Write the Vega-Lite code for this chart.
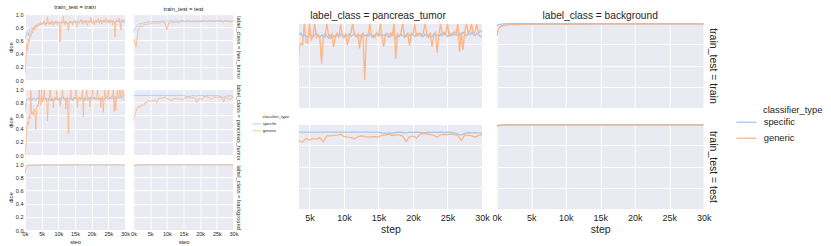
{
"$schema":"https://vega.github.io/schema/vega-lite/v6.json",
"background":"white",
"padding":{"left":7,"top":3,"right":0,"bottom":0},
"config":{
 "font":"Liberation Sans",
 "view":{"fill":"#eaeaf2","stroke":null},
 "axis":{"grid":true,"gridColor":"#ffffff","gridWidth":1,"gridOpacity":1,"domain":false,"ticks":false,"labelColor":"#262626","titleColor":"#262626","titleFontWeight":"normal","labelFont":"Liberation Sans","titleFont":"Liberation Sans","minExtent":0,"labelOverlap":false,"labelFlush":false},
 "title":{"color":"#262626","fontWeight":"normal","font":"Liberation Sans"},
 "legend":{"labelColor":"#262626","titleColor":"#262626","titleFontWeight":"normal","labelFont":"Liberation Sans","titleFont":"Liberation Sans"}
},
"datasets":{
"liver_train_specific":[{"step":0,"dice":0.62},{"step":500,"dice":0.72},{"step":1000,"dice":0.68},{"step":1500,"dice":0.78},{"step":2000,"dice":0.8},{"step":2500,"dice":0.76},{"step":3000,"dice":0.83},{"step":3500,"dice":0.82},{"step":4000,"dice":0.85},{"step":4500,"dice":0.84},{"step":5000,"dice":0.86},{"step":5500,"dice":0.85},{"step":6000,"dice":0.87},{"step":6500,"dice":0.86},{"step":7000,"dice":0.88},{"step":7500,"dice":0.85},{"step":8000,"dice":0.87},{"step":8500,"dice":0.88},{"step":9000,"dice":0.86},{"step":9500,"dice":0.87},{"step":10000,"dice":0.89},{"step":10500,"dice":0.86},{"step":11000,"dice":0.88},{"step":11500,"dice":0.87},{"step":12000,"dice":0.89},{"step":12500,"dice":0.88},{"step":13000,"dice":0.86},{"step":13500,"dice":0.88},{"step":14000,"dice":0.89},{"step":14500,"dice":0.87},{"step":15000,"dice":0.9},{"step":15500,"dice":0.88},{"step":16000,"dice":0.89},{"step":16500,"dice":0.87},{"step":17000,"dice":0.9},{"step":17500,"dice":0.88},{"step":18000,"dice":0.89},{"step":18500,"dice":0.9},{"step":19000,"dice":0.88},{"step":19500,"dice":0.89},{"step":20000,"dice":0.9},{"step":20500,"dice":0.87},{"step":21000,"dice":0.89},{"step":21500,"dice":0.9},{"step":22000,"dice":0.88},{"step":22500,"dice":0.89},{"step":23000,"dice":0.91},{"step":23500,"dice":0.88},{"step":24000,"dice":0.9},{"step":24500,"dice":0.89},{"step":25000,"dice":0.9},{"step":25500,"dice":0.88},{"step":26000,"dice":0.9},{"step":26500,"dice":0.89},{"step":27000,"dice":0.87},{"step":27500,"dice":0.9},{"step":28000,"dice":0.89},{"step":28500,"dice":0.88},{"step":29000,"dice":0.9},{"step":29500,"dice":0.88},{"step":30000,"dice":0.87}],
"liver_train_generic":[{"step":0,"dice":0.08},{"step":250,"dice":0.3},{"step":500,"dice":0.55},{"step":750,"dice":0.45},{"step":1000,"dice":0.62},{"step":1250,"dice":0.58},{"step":1500,"dice":0.7},{"step":1750,"dice":0.66},{"step":2000,"dice":0.75},{"step":2250,"dice":0.72},{"step":2500,"dice":0.8},{"step":2750,"dice":0.76},{"step":3000,"dice":0.82},{"step":3250,"dice":0.78},{"step":3500,"dice":0.84},{"step":3750,"dice":0.8},{"step":4000,"dice":0.86},{"step":4250,"dice":0.83},{"step":4500,"dice":0.85},{"step":4750,"dice":0.88},{"step":5000,"dice":0.84},{"step":5250,"dice":0.87},{"step":5500,"dice":0.85},{"step":5750,"dice":0.9},{"step":6000,"dice":0.86},{"step":6250,"dice":0.83},{"step":6500,"dice":0.88},{"step":6750,"dice":0.96},{"step":7000,"dice":0.86},{"step":7250,"dice":0.84},{"step":7500,"dice":0.88},{"step":7750,"dice":0.85},{"step":8000,"dice":0.9},{"step":8250,"dice":0.87},{"step":8500,"dice":0.82},{"step":8750,"dice":0.88},{"step":9000,"dice":0.86},{"step":9250,"dice":0.9},{"step":9500,"dice":0.87},{"step":9750,"dice":0.84},{"step":10000,"dice":0.88},{"step":10250,"dice":0.86},{"step":10500,"dice":0.58},{"step":10750,"dice":0.84},{"step":11000,"dice":0.88},{"step":11250,"dice":0.86},{"step":11500,"dice":0.97},{"step":11750,"dice":0.87},{"step":12000,"dice":0.84},{"step":12250,"dice":0.89},{"step":12500,"dice":0.86},{"step":12750,"dice":0.88},{"step":13000,"dice":0.75},{"step":13250,"dice":0.87},{"step":13500,"dice":0.9},{"step":13750,"dice":0.86},{"step":14000,"dice":0.88},{"step":14250,"dice":0.84},{"step":14500,"dice":0.89},{"step":14750,"dice":0.87},{"step":15000,"dice":0.9},{"step":15250,"dice":0.86},{"step":15500,"dice":0.8},{"step":15750,"dice":0.88},{"step":16000,"dice":0.9},{"step":16250,"dice":0.86},{"step":16500,"dice":0.89},{"step":16750,"dice":0.92},{"step":17000,"dice":0.87},{"step":17250,"dice":0.85},{"step":17500,"dice":0.9},{"step":17750,"dice":0.88},{"step":18000,"dice":0.86},{"step":18250,"dice":0.91},{"step":18500,"dice":0.88},{"step":18750,"dice":0.83},{"step":19000,"dice":0.89},{"step":19250,"dice":0.9},{"step":19500,"dice":0.87},{"step":19750,"dice":0.95},{"step":20000,"dice":0.88},{"step":20250,"dice":0.86},{"step":20500,"dice":0.9},{"step":20750,"dice":0.84},{"step":21000,"dice":0.89},{"step":21250,"dice":0.91},{"step":21500,"dice":0.87},{"step":21750,"dice":0.9},{"step":22000,"dice":0.93},{"step":22250,"dice":0.86},{"step":22500,"dice":0.89},{"step":22750,"dice":0.91},{"step":23000,"dice":0.85},{"step":23250,"dice":0.9},{"step":23500,"dice":0.88},{"step":23750,"dice":0.92},{"step":24000,"dice":0.87},{"step":24250,"dice":0.9},{"step":24500,"dice":0.93},{"step":24750,"dice":0.87},{"step":25000,"dice":0.9},{"step":25250,"dice":0.86},{"step":25500,"dice":0.92},{"step":25750,"dice":0.88},{"step":26000,"dice":0.9},{"step":26250,"dice":0.84},{"step":26500,"dice":0.91},{"step":26750,"dice":0.88},{"step":27000,"dice":0.66},{"step":27250,"dice":0.89},{"step":27500,"dice":0.92},{"step":27750,"dice":0.88},{"step":28000,"dice":0.9},{"step":28250,"dice":0.94},{"step":28500,"dice":0.87},{"step":28750,"dice":0.76},{"step":29000,"dice":0.9},{"step":29250,"dice":0.92},{"step":29500,"dice":0.88},{"step":29750,"dice":0.91},{"step":30000,"dice":0.89}],
"liver_test_specific":[{"step":0,"dice":0.72},{"step":500,"dice":0.78},{"step":1000,"dice":0.82},{"step":1500,"dice":0.84},{"step":2000,"dice":0.86},{"step":2500,"dice":0.85},{"step":3000,"dice":0.87},{"step":3500,"dice":0.87},{"step":4000,"dice":0.88},{"step":4500,"dice":0.88},{"step":5000,"dice":0.89},{"step":5500,"dice":0.88},{"step":6000,"dice":0.89},{"step":6500,"dice":0.89},{"step":7000,"dice":0.88},{"step":7500,"dice":0.89},{"step":8000,"dice":0.89},{"step":8500,"dice":0.9},{"step":9000,"dice":0.89},{"step":9500,"dice":0.89},{"step":10000,"dice":0.9},{"step":10500,"dice":0.89},{"step":11000,"dice":0.9},{"step":11500,"dice":0.9},{"step":12000,"dice":0.89},{"step":12500,"dice":0.9},{"step":13000,"dice":0.9},{"step":13500,"dice":0.89},{"step":14000,"dice":0.9},{"step":14500,"dice":0.9},{"step":15000,"dice":0.9},{"step":15500,"dice":0.89},{"step":16000,"dice":0.9},{"step":16500,"dice":0.9},{"step":17000,"dice":0.9},{"step":17500,"dice":0.89},{"step":18000,"dice":0.9},{"step":18500,"dice":0.9},{"step":19000,"dice":0.9},{"step":19500,"dice":0.89},{"step":20000,"dice":0.9},{"step":20500,"dice":0.9},{"step":21000,"dice":0.9},{"step":21500,"dice":0.9},{"step":22000,"dice":0.89},{"step":22500,"dice":0.9},{"step":23000,"dice":0.9},{"step":23500,"dice":0.9},{"step":24000,"dice":0.9},{"step":24500,"dice":0.89},{"step":25000,"dice":0.9},{"step":25500,"dice":0.9},{"step":26000,"dice":0.9},{"step":26500,"dice":0.9},{"step":27000,"dice":0.89},{"step":27500,"dice":0.9},{"step":28000,"dice":0.9},{"step":28500,"dice":0.9},{"step":29000,"dice":0.89},{"step":29500,"dice":0.9},{"step":30000,"dice":0.9}],
"liver_test_generic":[{"step":250,"dice":0.62},{"step":500,"dice":0.55},{"step":750,"dice":0.5},{"step":1000,"dice":0.6},{"step":1250,"dice":0.72},{"step":1500,"dice":0.78},{"step":2000,"dice":0.82},{"step":2500,"dice":0.8},{"step":3000,"dice":0.84},{"step":3500,"dice":0.85},{"step":4000,"dice":0.84},{"step":4500,"dice":0.86},{"step":5000,"dice":0.85},{"step":5500,"dice":0.86},{"step":6000,"dice":0.87},{"step":6500,"dice":0.86},{"step":7000,"dice":0.87},{"step":7500,"dice":0.86},{"step":8000,"dice":0.87},{"step":8500,"dice":0.88},{"step":9000,"dice":0.87},{"step":9500,"dice":0.86},{"step":10000,"dice":0.76},{"step":10500,"dice":0.86},{"step":11000,"dice":0.87},{"step":11500,"dice":0.88},{"step":12000,"dice":0.87},{"step":12500,"dice":0.88},{"step":13000,"dice":0.88},{"step":13500,"dice":0.87},{"step":14000,"dice":0.88},{"step":14500,"dice":0.89},{"step":15000,"dice":0.88},{"step":15500,"dice":0.89},{"step":16000,"dice":0.88},{"step":16500,"dice":0.89},{"step":17000,"dice":0.88},{"step":17500,"dice":0.89},{"step":18000,"dice":0.89},{"step":18500,"dice":0.88},{"step":19000,"dice":0.89},{"step":19500,"dice":0.89},{"step":20000,"dice":0.88},{"step":20500,"dice":0.89},{"step":21000,"dice":0.9},{"step":21500,"dice":0.89},{"step":22000,"dice":0.89},{"step":22500,"dice":0.9},{"step":23000,"dice":0.89},{"step":23500,"dice":0.9},{"step":24000,"dice":0.89},{"step":24500,"dice":0.9},{"step":25000,"dice":0.9},{"step":25500,"dice":0.89},{"step":26000,"dice":0.9},{"step":26500,"dice":0.89},{"step":27000,"dice":0.88},{"step":27500,"dice":0.9},{"step":28000,"dice":0.89},{"step":28500,"dice":0.9},{"step":29000,"dice":0.88},{"step":29500,"dice":0.89},{"step":30000,"dice":0.89}],
"pancreas_train_specific":[{"step":0,"dice":0.65},{"step":250,"dice":0.78},{"step":500,"dice":0.85},{"step":750,"dice":0.83},{"step":1000,"dice":0.86},{"step":1250,"dice":0.84},{"step":1500,"dice":0.87},{"step":1750,"dice":0.85},{"step":2000,"dice":0.83},{"step":2250,"dice":0.86},{"step":2500,"dice":0.84},{"step":2750,"dice":0.87},{"step":3000,"dice":0.85},{"step":3250,"dice":0.83},{"step":3500,"dice":0.86},{"step":3750,"dice":0.88},{"step":4000,"dice":0.84},{"step":4250,"dice":0.86},{"step":4500,"dice":0.85},{"step":4750,"dice":0.83},{"step":5000,"dice":0.87},{"step":5250,"dice":0.85},{"step":5500,"dice":0.84},{"step":5750,"dice":0.86},{"step":6000,"dice":0.88},{"step":6250,"dice":0.85},{"step":6500,"dice":0.83},{"step":6750,"dice":0.86},{"step":7000,"dice":0.84},{"step":7250,"dice":0.87},{"step":7500,"dice":0.85},{"step":7750,"dice":0.82},{"step":8000,"dice":0.86},{"step":8250,"dice":0.84},{"step":8500,"dice":0.85},{"step":8750,"dice":0.83},{"step":9000,"dice":0.86},{"step":9250,"dice":0.84},{"step":9500,"dice":0.87},{"step":9750,"dice":0.85},{"step":10000,"dice":0.83},{"step":10250,"dice":0.86},{"step":10500,"dice":0.85},{"step":10750,"dice":0.87},{"step":11000,"dice":0.84},{"step":11250,"dice":0.86},{"step":11500,"dice":0.88},{"step":11750,"dice":0.85},{"step":12000,"dice":0.83},{"step":12250,"dice":0.86},{"step":12500,"dice":0.84},{"step":12750,"dice":0.87},{"step":13000,"dice":0.85},{"step":13250,"dice":0.86},{"step":13500,"dice":0.84},{"step":13750,"dice":0.87},{"step":14000,"dice":0.85},{"step":14250,"dice":0.83},{"step":14500,"dice":0.86},{"step":14750,"dice":0.88},{"step":15000,"dice":0.85},{"step":15250,"dice":0.87},{"step":15500,"dice":0.84},{"step":15750,"dice":0.86},{"step":16000,"dice":0.85},{"step":16250,"dice":0.88},{"step":16500,"dice":0.86},{"step":16750,"dice":0.84},{"step":17000,"dice":0.87},{"step":17250,"dice":0.85},{"step":17500,"dice":0.82},{"step":17750,"dice":0.86},{"step":18000,"dice":0.84},{"step":18250,"dice":0.87},{"step":18500,"dice":0.85},{"step":18750,"dice":0.83},{"step":19000,"dice":0.86},{"step":19250,"dice":0.88},{"step":19500,"dice":0.85},{"step":19750,"dice":0.87},{"step":20000,"dice":0.86},{"step":20250,"dice":0.84},{"step":20500,"dice":0.87},{"step":20750,"dice":0.85},{"step":21000,"dice":0.88},{"step":21250,"dice":0.86},{"step":21500,"dice":0.84},{"step":21750,"dice":0.87},{"step":22000,"dice":0.85},{"step":22250,"dice":0.83},{"step":22500,"dice":0.86},{"step":22750,"dice":0.84},{"step":23000,"dice":0.87},{"step":23250,"dice":0.85},{"step":23500,"dice":0.86},{"step":23750,"dice":0.84},{"step":24000,"dice":0.87},{"step":24250,"dice":0.85},{"step":24500,"dice":0.88},{"step":24750,"dice":0.86},{"step":25000,"dice":0.84},{"step":25250,"dice":0.87},{"step":25500,"dice":0.85},{"step":25750,"dice":0.88},{"step":26000,"dice":0.86},{"step":26250,"dice":0.87},{"step":26500,"dice":0.85},{"step":26750,"dice":0.88},{"step":27000,"dice":0.86},{"step":27250,"dice":0.89},{"step":27500,"dice":0.87},{"step":27750,"dice":0.85},{"step":28000,"dice":0.88},{"step":28250,"dice":0.86},{"step":28500,"dice":0.89},{"step":28750,"dice":0.87},{"step":29000,"dice":0.85},{"step":29250,"dice":0.88},{"step":29500,"dice":0.86},{"step":29750,"dice":0.84},{"step":30000,"dice":0.85}],
"pancreas_train_generic":[{"step":0,"dice":0.0},{"step":250,"dice":0.12},{"step":500,"dice":0.42},{"step":750,"dice":0.5},{"step":1000,"dice":0.46},{"step":1250,"dice":0.6},{"step":1500,"dice":0.55},{"step":1750,"dice":0.98},{"step":2000,"dice":0.62},{"step":2250,"dice":0.66},{"step":2500,"dice":0.6},{"step":2750,"dice":0.7},{"step":3000,"dice":0.65},{"step":3250,"dice":0.38},{"step":3500,"dice":0.72},{"step":3750,"dice":0.76},{"step":4000,"dice":0.74},{"step":4250,"dice":0.99},{"step":4500,"dice":0.78},{"step":4750,"dice":0.76},{"step":5000,"dice":0.99},{"step":5250,"dice":0.8},{"step":5500,"dice":0.84},{"step":5750,"dice":0.99},{"step":6000,"dice":0.83},{"step":6250,"dice":0.86},{"step":6500,"dice":0.82},{"step":6750,"dice":0.52},{"step":7000,"dice":0.85},{"step":7250,"dice":0.83},{"step":7500,"dice":0.99},{"step":7750,"dice":0.86},{"step":8000,"dice":0.82},{"step":8250,"dice":0.87},{"step":8500,"dice":0.72},{"step":8750,"dice":0.85},{"step":9000,"dice":0.88},{"step":9250,"dice":0.84},{"step":9500,"dice":0.98},{"step":9750,"dice":0.86},{"step":10000,"dice":0.83},{"step":10250,"dice":0.87},{"step":10500,"dice":0.74},{"step":10750,"dice":0.85},{"step":11000,"dice":0.88},{"step":11250,"dice":0.99},{"step":11500,"dice":0.86},{"step":11750,"dice":0.84},{"step":12000,"dice":0.87},{"step":12250,"dice":0.7},{"step":12500,"dice":0.86},{"step":12750,"dice":0.88},{"step":13000,"dice":0.33},{"step":13250,"dice":0.85},{"step":13500,"dice":0.87},{"step":13750,"dice":0.99},{"step":14000,"dice":0.84},{"step":14250,"dice":0.86},{"step":14500,"dice":0.83},{"step":14750,"dice":0.88},{"step":15000,"dice":0.85},{"step":15250,"dice":0.99},{"step":15500,"dice":0.84},{"step":15750,"dice":0.72},{"step":16000,"dice":0.87},{"step":16250,"dice":0.85},{"step":16500,"dice":0.83},{"step":16750,"dice":0.88},{"step":17000,"dice":0.86},{"step":17250,"dice":0.99},{"step":17500,"dice":0.58},{"step":17750,"dice":0.87},{"step":18000,"dice":0.84},{"step":18250,"dice":0.88},{"step":18500,"dice":0.99},{"step":18750,"dice":0.86},{"step":19000,"dice":0.84},{"step":19250,"dice":0.87},{"step":19500,"dice":0.73},{"step":19750,"dice":0.88},{"step":20000,"dice":0.86},{"step":20250,"dice":0.99},{"step":20500,"dice":0.85},{"step":20750,"dice":0.88},{"step":21000,"dice":0.86},{"step":21250,"dice":0.84},{"step":21500,"dice":0.89},{"step":21750,"dice":0.99},{"step":22000,"dice":0.87},{"step":22250,"dice":0.85},{"step":22500,"dice":0.88},{"step":22750,"dice":0.72},{"step":23000,"dice":0.86},{"step":23250,"dice":0.89},{"step":23500,"dice":0.65},{"step":23750,"dice":0.87},{"step":24000,"dice":0.99},{"step":24250,"dice":0.86},{"step":24500,"dice":0.89},{"step":24750,"dice":0.87},{"step":25000,"dice":0.99},{"step":25250,"dice":0.85},{"step":25500,"dice":0.88},{"step":25750,"dice":0.86},{"step":26000,"dice":0.9},{"step":26250,"dice":0.88},{"step":26500,"dice":0.99},{"step":26750,"dice":0.66},{"step":27000,"dice":0.89},{"step":27250,"dice":0.68},{"step":27500,"dice":0.9},{"step":27750,"dice":0.99},{"step":28000,"dice":0.88},{"step":28250,"dice":0.91},{"step":28500,"dice":0.99},{"step":28750,"dice":0.87},{"step":29000,"dice":0.9},{"step":29250,"dice":0.99},{"step":29500,"dice":0.88},{"step":29750,"dice":0.91},{"step":30000,"dice":0.89}],
"pancreas_test_specific":[{"step":0,"dice":0.9},{"step":500,"dice":0.905},{"step":1000,"dice":0.905},{"step":1500,"dice":0.905},{"step":2000,"dice":0.905},{"step":2500,"dice":0.905},{"step":3000,"dice":0.905},{"step":3500,"dice":0.905},{"step":4000,"dice":0.905},{"step":4500,"dice":0.905},{"step":5000,"dice":0.905},{"step":5500,"dice":0.905},{"step":6000,"dice":0.905},{"step":6500,"dice":0.905},{"step":7000,"dice":0.905},{"step":7500,"dice":0.905},{"step":8000,"dice":0.905},{"step":8500,"dice":0.905},{"step":9000,"dice":0.905},{"step":9500,"dice":0.905},{"step":10000,"dice":0.905},{"step":10500,"dice":0.905},{"step":11000,"dice":0.905},{"step":11500,"dice":0.905},{"step":12000,"dice":0.905},{"step":12500,"dice":0.905},{"step":13000,"dice":0.905},{"step":13500,"dice":0.905},{"step":14000,"dice":0.905},{"step":14500,"dice":0.905},{"step":15000,"dice":0.905},{"step":15500,"dice":0.895},{"step":16000,"dice":0.89},{"step":16500,"dice":0.895},{"step":17000,"dice":0.89},{"step":17500,"dice":0.9},{"step":18000,"dice":0.905},{"step":18500,"dice":0.9},{"step":19000,"dice":0.895},{"step":19500,"dice":0.905},{"step":20000,"dice":0.9},{"step":20500,"dice":0.905},{"step":21000,"dice":0.9},{"step":21500,"dice":0.895},{"step":22000,"dice":0.905},{"step":22500,"dice":0.9},{"step":23000,"dice":0.905},{"step":23500,"dice":0.9},{"step":24000,"dice":0.905},{"step":24500,"dice":0.9},{"step":25000,"dice":0.905},{"step":25500,"dice":0.9},{"step":26000,"dice":0.895},{"step":26500,"dice":0.88},{"step":27000,"dice":0.87},{"step":27500,"dice":0.89},{"step":28000,"dice":0.9},{"step":28500,"dice":0.895},{"step":29000,"dice":0.9},{"step":29500,"dice":0.895},{"step":30000,"dice":0.89}],
"pancreas_test_generic":[{"step":0,"dice":0.52},{"step":500,"dice":0.62},{"step":1000,"dice":0.7},{"step":1500,"dice":0.74},{"step":2000,"dice":0.72},{"step":2500,"dice":0.77},{"step":3000,"dice":0.75},{"step":3500,"dice":0.8},{"step":4000,"dice":0.79},{"step":4500,"dice":0.83},{"step":5000,"dice":0.81},{"step":5500,"dice":0.83},{"step":6000,"dice":0.82},{"step":6500,"dice":0.84},{"step":7000,"dice":0.79},{"step":7500,"dice":0.86},{"step":8000,"dice":0.86},{"step":8500,"dice":0.865},{"step":9000,"dice":0.87},{"step":9500,"dice":0.88},{"step":10000,"dice":0.855},{"step":10500,"dice":0.845},{"step":11000,"dice":0.84},{"step":11500,"dice":0.825},{"step":12000,"dice":0.85},{"step":12500,"dice":0.86},{"step":13000,"dice":0.855},{"step":13500,"dice":0.845},{"step":14000,"dice":0.85},{"step":14500,"dice":0.85},{"step":15000,"dice":0.845},{"step":15500,"dice":0.87},{"step":16000,"dice":0.87},{"step":16500,"dice":0.88},{"step":17000,"dice":0.865},{"step":17500,"dice":0.87},{"step":18000,"dice":0.87},{"step":18500,"dice":0.86},{"step":19000,"dice":0.795},{"step":19500,"dice":0.85},{"step":20000,"dice":0.86},{"step":20500,"dice":0.835},{"step":21000,"dice":0.875},{"step":21500,"dice":0.89},{"step":22000,"dice":0.885},{"step":22500,"dice":0.875},{"step":23000,"dice":0.865},{"step":23500,"dice":0.845},{"step":24000,"dice":0.875},{"step":24500,"dice":0.875},{"step":25000,"dice":0.875},{"step":25500,"dice":0.88},{"step":26000,"dice":0.875},{"step":26500,"dice":0.865},{"step":27000,"dice":0.805},{"step":27500,"dice":0.87},{"step":28000,"dice":0.87},{"step":28500,"dice":0.86},{"step":29000,"dice":0.845},{"step":29500,"dice":0.865},{"step":30000,"dice":0.875}],
"background_train_specific":[{"step":0,"dice":0.965},{"step":250,"dice":0.98},{"step":500,"dice":0.985},{"step":1000,"dice":0.99},{"step":2000,"dice":0.992},{"step":3000,"dice":0.993},{"step":4000,"dice":0.993},{"step":6000,"dice":0.994},{"step":8000,"dice":0.994},{"step":10000,"dice":0.994},{"step":12000,"dice":0.994},{"step":14000,"dice":0.994},{"step":16000,"dice":0.994},{"step":18000,"dice":0.994},{"step":20000,"dice":0.994},{"step":22000,"dice":0.994},{"step":24000,"dice":0.994},{"step":26000,"dice":0.994},{"step":28000,"dice":0.994},{"step":30000,"dice":0.994}],
"background_train_generic":[{"step":0,"dice":0.85},{"step":250,"dice":0.93},{"step":500,"dice":0.955},{"step":750,"dice":0.965},{"step":1000,"dice":0.972},{"step":1500,"dice":0.977},{"step":2000,"dice":0.98},{"step":3000,"dice":0.982},{"step":4000,"dice":0.983},{"step":5000,"dice":0.984},{"step":6000,"dice":0.984},{"step":8000,"dice":0.985},{"step":10000,"dice":0.985},{"step":12000,"dice":0.985},{"step":14000,"dice":0.986},{"step":16000,"dice":0.986},{"step":18000,"dice":0.986},{"step":20000,"dice":0.986},{"step":22000,"dice":0.986},{"step":24000,"dice":0.986},{"step":26000,"dice":0.986},{"step":28000,"dice":0.986},{"step":30000,"dice":0.986}],
"background_test_specific":[{"step":0,"dice":0.98},{"step":500,"dice":0.99},{"step":1000,"dice":0.992},{"step":2000,"dice":0.993},{"step":4000,"dice":0.994},{"step":6000,"dice":0.994},{"step":8000,"dice":0.994},{"step":10000,"dice":0.994},{"step":12000,"dice":0.994},{"step":14000,"dice":0.994},{"step":16000,"dice":0.994},{"step":18000,"dice":0.994},{"step":20000,"dice":0.994},{"step":22000,"dice":0.994},{"step":24000,"dice":0.994},{"step":26000,"dice":0.994},{"step":28000,"dice":0.994},{"step":30000,"dice":0.994}],
"background_test_generic":[{"step":0,"dice":0.97},{"step":500,"dice":0.983},{"step":1000,"dice":0.986},{"step":2000,"dice":0.987},{"step":4000,"dice":0.987},{"step":6000,"dice":0.987},{"step":8000,"dice":0.987},{"step":10000,"dice":0.987},{"step":12000,"dice":0.987},{"step":14000,"dice":0.987},{"step":16000,"dice":0.987},{"step":18000,"dice":0.987},{"step":20000,"dice":0.987},{"step":22000,"dice":0.987},{"step":24000,"dice":0.987},{"step":26000,"dice":0.987},{"step":28000,"dice":0.987},{"step":30000,"dice":0.987}]
},
"resolve":{"scale":{"color":"independent"},"legend":{"color":"independent"}},
"center":true,
"spacing":9,
"hconcat":[
{
 "spacing":0.5,
 "hconcat":[
  {"bounds":"flush","spacing":9,"vconcat":[
   {"width":100,"height":66,"title":{"text":"train_test = train","fontSize":5.8,"offset":2.5},
    "encoding":{"x":{"field":"step","type":"quantitative","scale":{"domain":[0,30000],"nice":false},"axis":{"values":[0,5000,10000,15000,20000,25000,30000],"labels":false,"title":null}},
     "y":{"field":"dice","type":"quantitative","scale":{"domain":[0,1],"nice":false},"axis":{"values":[0,0.2,0.4,0.6,0.8,1],"format":".1f","labelFontSize":5.5,"labelPadding":2,"title":"dice","titleFontSize":5.7,"titlePadding":1.5}}},
    "layer":[
     {"data":{"name":"liver_train_specific"},"mark":{"type":"line","strokeWidth":0.8,"clip":true},"encoding":{"color":{"datum":"specific","type":"nominal","scale":{"domain":["specific","generic"],"range":["#a1c9f4","#ffb482"]},"legend":{"orient":"none","legendX":237.5,"legendY":101,"title":"classifier_type","titleFontSize":4.2,"titlePadding":0,"labelFontSize":4.2,"symbolType":"stroke","symbolSize":64,"symbolStrokeWidth":0.8,"rowPadding":-2.1,"labelOffset":1.6,"symbolOffset":-10.4,"padding":0}}}},
     {"data":{"name":"liver_train_generic"},"mark":{"type":"line","strokeWidth":0.8,"clip":true},"encoding":{"color":{"datum":"generic","type":"nominal","scale":{"domain":["specific","generic"],"range":["#a1c9f4","#ffb482"]}}}}
    ]},
   {"width":100,"height":66,
    "encoding":{"x":{"field":"step","type":"quantitative","scale":{"domain":[0,30000],"nice":false},"axis":{"values":[0,5000,10000,15000,20000,25000,30000],"labels":false,"title":null}},
     "y":{"field":"dice","type":"quantitative","scale":{"domain":[0,1],"nice":false},"axis":{"values":[0,0.2,0.4,0.6,0.8,1],"format":".1f","labelFontSize":5.5,"labelPadding":2,"title":"dice","titleFontSize":5.7,"titlePadding":1.5}}},
    "layer":[
     {"data":{"name":"pancreas_train_specific"},"mark":{"type":"line","strokeWidth":0.8,"clip":true},"encoding":{"color":{"datum":"specific","type":"nominal","scale":{"domain":["specific","generic"],"range":["#a1c9f4","#ffb482"]}}}},
     {"data":{"name":"pancreas_train_generic"},"mark":{"type":"line","strokeWidth":0.8,"clip":true},"encoding":{"color":{"datum":"generic","type":"nominal","scale":{"domain":["specific","generic"],"range":["#a1c9f4","#ffb482"]}}}}
    ]},
   {"width":100,"height":66,
    "encoding":{"x":{"field":"step","type":"quantitative","scale":{"domain":[0,30000],"nice":false},"axis":{"values":[0,5000,10000,15000,20000,25000,30000],"labelExpr":"datum.value / 1000 + 'k'","labelFontSize":5.5,"labelPadding":1.5,"title":"step","titleFontSize":5.7,"titlePadding":1}},
     "y":{"field":"dice","type":"quantitative","scale":{"domain":[0,1],"nice":false},"axis":{"values":[0,0.2,0.4,0.6,0.8,1],"format":".1f","labelFontSize":5.5,"labelPadding":2,"title":"dice","titleFontSize":5.7,"titlePadding":1.5}}},
    "layer":[
     {"data":{"name":"background_train_specific"},"mark":{"type":"line","strokeWidth":0.8,"clip":true},"encoding":{"color":{"datum":"specific","type":"nominal","scale":{"domain":["specific","generic"],"range":["#a1c9f4","#ffb482"]}}}},
     {"data":{"name":"background_train_generic"},"mark":{"type":"line","strokeWidth":0.8,"clip":true},"encoding":{"color":{"datum":"generic","type":"nominal","scale":{"domain":["specific","generic"],"range":["#a1c9f4","#ffb482"]}}}}
    ]}
  ]},
  {"bounds":"flush","spacing":9,"vconcat":[
   {"width":100,"height":66,"title":{"text":"train_test = test","fontSize":5.8,"offset":2.5},
    "encoding":{"x":{"field":"step","type":"quantitative","scale":{"domain":[0,30000],"nice":false},"axis":{"values":[0,5000,10000,15000,20000,25000,30000],"labels":false,"title":null}},
     "y":{"field":"dice","type":"quantitative","scale":{"domain":[0,1],"nice":false},"axis":{"orient":"right","values":[0,0.2,0.4,0.6,0.8,1],"labels":false,"title":"label_class = liver_tumor","titleFontSize":5.7,"titlePadding":2}}},
    "layer":[
     {"data":{"name":"liver_test_specific"},"mark":{"type":"line","strokeWidth":0.8,"clip":true},"encoding":{"color":{"datum":"specific","type":"nominal","scale":{"domain":["specific","generic"],"range":["#a1c9f4","#ffb482"]}}}},
     {"data":{"name":"liver_test_generic"},"mark":{"type":"line","strokeWidth":0.8,"clip":true},"encoding":{"color":{"datum":"generic","type":"nominal","scale":{"domain":["specific","generic"],"range":["#a1c9f4","#ffb482"]}}}}
    ]},
   {"width":100,"height":66,
    "encoding":{"x":{"field":"step","type":"quantitative","scale":{"domain":[0,30000],"nice":false},"axis":{"values":[0,5000,10000,15000,20000,25000,30000],"labels":false,"title":null}},
     "y":{"field":"dice","type":"quantitative","scale":{"domain":[0,1],"nice":false},"axis":{"orient":"right","values":[0,0.2,0.4,0.6,0.8,1],"labels":false,"title":"label_class = pancreas_tumor","titleFontSize":5.7,"titlePadding":2}}},
    "layer":[
     {"data":{"name":"pancreas_test_specific"},"mark":{"type":"line","strokeWidth":0.8,"clip":true},"encoding":{"color":{"datum":"specific","type":"nominal","scale":{"domain":["specific","generic"],"range":["#a1c9f4","#ffb482"]}}}},
     {"data":{"name":"pancreas_test_generic"},"mark":{"type":"line","strokeWidth":0.8,"clip":true},"encoding":{"color":{"datum":"generic","type":"nominal","scale":{"domain":["specific","generic"],"range":["#a1c9f4","#ffb482"]}}}}
    ]},
   {"width":100,"height":66,
    "encoding":{"x":{"field":"step","type":"quantitative","scale":{"domain":[0,30000],"nice":false},"axis":{"values":[0,5000,10000,15000,20000,25000,30000],"labelExpr":"datum.value / 1000 + 'k'","labelFontSize":5.5,"labelPadding":1.5,"title":"step","titleFontSize":5.7,"titlePadding":1}},
     "y":{"field":"dice","type":"quantitative","scale":{"domain":[0,1],"nice":false},"axis":{"orient":"right","values":[0,0.2,0.4,0.6,0.8,1],"labels":false,"title":"label_class = background","titleFontSize":5.7,"titlePadding":2}}},
    "layer":[
     {"data":{"name":"background_test_specific"},"mark":{"type":"line","strokeWidth":0.8,"clip":true},"encoding":{"color":{"datum":"specific","type":"nominal","scale":{"domain":["specific","generic"],"range":["#a1c9f4","#ffb482"]}}}},
     {"data":{"name":"background_test_generic"},"mark":{"type":"line","strokeWidth":0.8,"clip":true},"encoding":{"color":{"datum":"generic","type":"nominal","scale":{"domain":["specific","generic"],"range":["#a1c9f4","#ffb482"]}}}}
    ]}
  ]}
 ]
},
{
 "spacing":1.7,
 "hconcat":[
  {"bounds":"flush","spacing":16,"vconcat":[
   {"width":183,"height":85,"title":{"text":"label_class = pancreas_tumor","fontSize":10.2,"offset":2,"dx":-12.5},
    "encoding":{"x":{"field":"step","type":"quantitative","scale":{"domain":[3480,30000],"nice":false},"axis":{"values":[5000,10000,15000,20000,25000,30000],"labels":false,"title":null}},
     "y":{"field":"dice","type":"quantitative","scale":{"domain":[0,1],"nice":false},"axis":{"values":[0,0.25,0.5,0.75,1],"labels":false,"title":null}}},
    "layer":[
     {"data":{"name":"pancreas_train_specific"},"mark":{"type":"line","strokeWidth":1.3,"clip":true},"encoding":{"color":{"datum":"specific","type":"nominal","scale":{"domain":["specific","generic"],"range":["#a1c9f4","#ffb482"]},"legend":{"orient":"none","legendX":464,"legendY":82.5,"title":"classifier_type","titleFontSize":9.4,"titlePadding":-3.7,"labelFontSize":9.4,"symbolType":"stroke","symbolSize":400,"symbolStrokeWidth":1.3,"rowPadding":-11.2,"labelOffset":6.35,"symbolOffset":-27.65,"padding":0}}}},
     {"data":{"name":"pancreas_train_generic"},"mark":{"type":"line","strokeWidth":1.3,"clip":true},"encoding":{"color":{"datum":"generic","type":"nominal","scale":{"domain":["specific","generic"],"range":["#a1c9f4","#ffb482"]}}}}
    ]},
   {"width":183,"height":85,
    "encoding":{"x":{"field":"step","type":"quantitative","scale":{"domain":[3480,30000],"nice":false},"axis":{"values":[5000,10000,15000,20000,25000,30000],"labelExpr":"datum.value / 1000 + 'k'","labelFontSize":9,"labelPadding":4.5,"title":"step","titleFontSize":10.5,"titlePadding":2}},
     "y":{"field":"dice","type":"quantitative","scale":{"domain":[0,1],"nice":false},"axis":{"values":[0,0.25,0.5,0.75,1],"labels":false,"title":null}}},
    "layer":[
     {"data":{"name":"pancreas_test_specific"},"mark":{"type":"line","strokeWidth":1.3,"clip":true},"encoding":{"color":{"datum":"specific","type":"nominal","scale":{"domain":["specific","generic"],"range":["#a1c9f4","#ffb482"]}}}},
     {"data":{"name":"pancreas_test_generic"},"mark":{"type":"line","strokeWidth":1.3,"clip":true},"encoding":{"color":{"datum":"generic","type":"nominal","scale":{"domain":["specific","generic"],"range":["#a1c9f4","#ffb482"]}}}}
    ]}
  ]},
  {"bounds":"flush","spacing":16,"vconcat":[
   {"width":207,"height":85,"title":{"text":"label_class = background","fontSize":10.2,"offset":2},
    "encoding":{"x":{"field":"step","type":"quantitative","scale":{"domain":[0,30000],"nice":false},"axis":{"values":[0,5000,10000,15000,20000,25000,30000],"labels":false,"title":null}},
     "y":{"field":"dice","type":"quantitative","scale":{"domain":[0,1],"nice":false},"axis":{"orient":"right","values":[0,0.25,0.5,0.75,1],"labels":false,"title":"train_test = train","titleFontSize":10.5,"titlePadding":4}}},
    "layer":[
     {"data":{"name":"background_train_specific"},"mark":{"type":"line","strokeWidth":1.3,"clip":true},"encoding":{"color":{"datum":"specific","type":"nominal","scale":{"domain":["specific","generic"],"range":["#a1c9f4","#ffb482"]}}}},
     {"data":{"name":"background_train_generic"},"mark":{"type":"line","strokeWidth":1.3,"clip":true},"encoding":{"color":{"datum":"generic","type":"nominal","scale":{"domain":["specific","generic"],"range":["#a1c9f4","#ffb482"]}}}}
    ]},
   {"width":207,"height":85,
    "encoding":{"x":{"field":"step","type":"quantitative","scale":{"domain":[0,30000],"nice":false},"axis":{"values":[0,5000,10000,15000,20000,25000,30000],"labelExpr":"datum.value / 1000 + 'k'","labelFontSize":9,"labelPadding":4.5,"title":"step","titleFontSize":10.5,"titlePadding":2}},
     "y":{"field":"dice","type":"quantitative","scale":{"domain":[0,1],"nice":false},"axis":{"orient":"right","values":[0,0.25,0.5,0.75,1],"labels":false,"title":"train_test = test","titleFontSize":10.5,"titlePadding":4}}},
    "layer":[
     {"data":{"name":"background_test_specific"},"mark":{"type":"line","strokeWidth":1.3,"clip":true},"encoding":{"color":{"datum":"specific","type":"nominal","scale":{"domain":["specific","generic"],"range":["#a1c9f4","#ffb482"]}}}},
     {"data":{"name":"background_test_generic"},"mark":{"type":"line","strokeWidth":1.3,"clip":true},"encoding":{"color":{"datum":"generic","type":"nominal","scale":{"domain":["specific","generic"],"range":["#a1c9f4","#ffb482"]}}}}
    ]}
  ]}
 ]
}
]
}
